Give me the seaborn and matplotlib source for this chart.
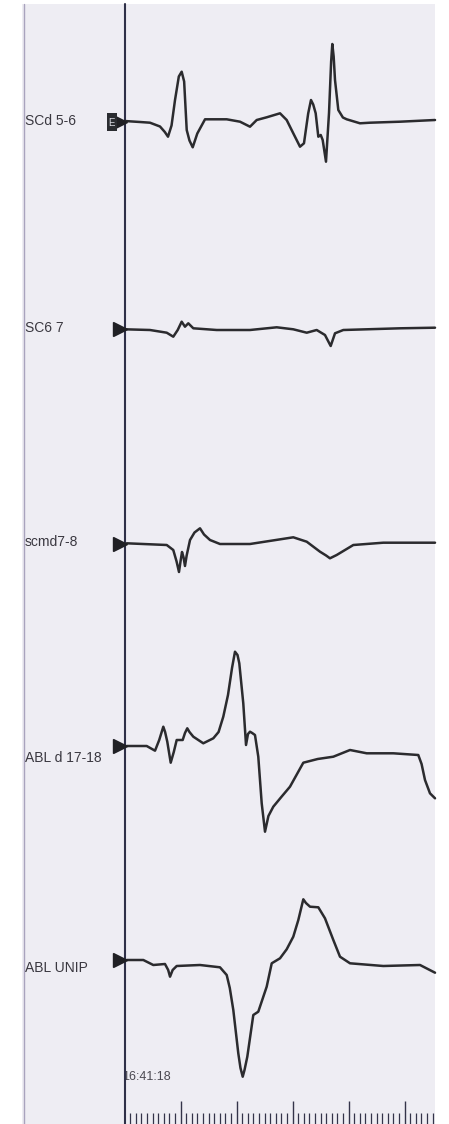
import numpy as np
import pandas as pd
import matplotlib
matplotlib.use("Agg")
import matplotlib.pyplot as plt
import seaborn as sns
from matplotlib.patches import Rectangle

# Intracardiac electrograms, time in ms, amplitude in display units (up = positive)
channels = ["SCd 5-6", "SC6 7", "scmd7-8", "ABL d 17-18", "ABL UNIP"]

t_scd56 = [0, 27.7, 45.5, 63.4, 72.0, 77.7, 84.0, 90.2, 97.0, 102.1, 106.5, 111.1, 116.0, 121.8,
           130.0, 143.8, 182.5, 206.3, 224.1, 236.1, 253.9, 277.7, 289.6, 301.4, 313.4, 320.5,
           328.0, 333.0, 337.0, 341.4, 346.1, 350.4, 353.9, 359.8, 365.2, 369.0, 371.1, 373.5,
           375.9, 381.8, 390.0, 396.8, 420.5, 438.4, 492.0, 554.5]
a_scd56 = [0.5, -0.5, -1.2, -5.0, -10.5, -15.2, -4.0, 21.5, 45.0, 49.8, 40.0, -8.5, -19.0, -25.8,
           -12.0, 2.2, 2.2, -0.2, -5.2, 1.5, 4.2, 8.2, 1.5, -11.8, -25.2, -21.8,
           8.0, 21.5, 17.0, 8.2, -15.2, -13.5, -18.5, -40.2, 8.5, 60.0, 77.5, 65.0,
           41.5, 11.5, 4.0, 2.2, -1.8, -1.2, -0.2, 1.5]

t_sc67 = [0.9, 45.5, 75.4, 87.1, 95.0, 102.1, 108.0, 113.9, 122.9, 164.6, 224.1, 271.8, 301.4,
          325.4, 343.2, 358.0, 368.2, 375.9, 390.7, 432.5, 492.0, 554.5]
a_sc67 = [-0.3, -1.0, -3.7, -7.7, -1.0, 7.3, 2.3, 5.7, 0.7, -1.0, -1.0, 1.7, -0.3,
          -3.7, -1.0, -6.0, -17.0, -4.3, -1.0, -0.3, 0.7, 1.3]

t_scmd78 = [3.9, 75.4, 87.1, 93.0, 97.3, 100.0, 102.7, 105.5, 108.0, 111.0, 117.0, 125.0, 134.8,
            142.0, 152.7, 170.5, 224.1, 301.4, 325.4, 349.1, 360.0, 366.9, 378.9, 408.6, 462.1,
            554.5]
a_scmd78 = [0.2, -1.5, -6.5, -18.0, -28.5, -18.0, -8.5, -14.0, -22.5, -12.0, 3.5, 11.0, 15.2,
            9.0, 3.5, -0.5, -0.5, 6.2, 1.8, -8.2, -12.0, -14.8, -11.5, -1.5, 0.8,
            0.8]

t_abld = [3.9, 39.6, 54.5, 62.0, 69.3, 72.5, 76.4, 82.5, 88.0, 93.2, 103.9, 108.0, 112.1, 116.0,
          122.9, 140.7, 158.6, 168.0, 176.4, 184.8, 192.0, 197.3, 201.8, 205.0, 212.1, 217.0,
          220.5, 224.1, 228.0, 233.0, 238.9, 245.0, 250.9, 257.0, 265.7, 280.0, 295.5, 319.3,
          345.0, 372.9, 402.7, 432.5, 480.0, 524.6, 530.5, 536.6, 545.5, 554.5]
a_abld = [0, 0, -4.7, 6.0, 19.3, 14.0, 4.3, -16.7, -6.0, 6.0, 6.0, 13.0, 17.7, 14.0,
          9.3, 2.7, 7.7, 14.0, 29.3, 51.0, 78.0, 94.3, 91.0, 82.7, 42.7, 1.0,
          12.0, 14.3, 13.0, 11.0, -10.7, -57.3, -85.7, -70.0, -60.7, -51.0, -40.7, -16.7,
          -13.0, -10.7, -4.0, -7.3, -7.3, -9.0, -18.0, -34.0, -47.3, -52.3]

t_ablu = [3.9, 33.6, 51.4, 72.3, 78.0, 81.3, 86.0, 93.2, 134.8, 170.5, 182.5, 188.0, 194.3,
          203.2, 207.1, 211.1, 214.3, 219.3, 230.0, 238.9, 253.9, 262.9, 277.7, 289.6, 301.4,
          310.4, 319.3, 324.0, 331.3, 346.1, 358.0, 372.9, 384.8, 402.7, 462.1, 527.7, 554.5]
a_ablu = [0, 0, -5.0, -4.0, -10.0, -16.7, -10.0, -6.0, -5.0, -7.3, -15.0, -28.0, -50.0,
          -93.3, -108.0, -116.7, -110.0, -96.7, -55.0, -51.7, -26.7, -3.3, 1.7, 10.7, 23.3,
          40.0, 60.7, 57.0, 53.3, 52.7, 41.7, 20.0, 3.3, -3.3, -6.0, -5.0, -12.7]

time_label = "16:41:18"

# layout (pixel rows of each channel baseline, pixels per ms)
W, H = 449, 1124
x0, px_ms = 124.5, 0.56
baselines = [121.5, 329, 543.5, 746, 960]
label_rows = [121, 328, 542, 758, 968]

def tx(px):
    return (px - x0) / px_ms

rows = []
for name, t, a, b in zip(channels,
                         [t_scd56, t_sc67, t_scmd78, t_abld, t_ablu],
                         [a_scd56, a_sc67, a_scmd78, a_abld, a_ablu],
                         baselines):
    for ti, ai in zip(t, a):
        rows.append({"channel": name, "t": ti, "y": -b + ai})
df = pd.DataFrame(rows)

sns.set_style("white")
plt.rcParams["font.family"] = ["Liberation Sans", "DejaVu Sans"]

fig = plt.figure(figsize=(W / 100, H / 100), dpi=100)
fig.patch.set_facecolor("white")
ax = fig.add_axes([0, 0, 1, 1])
ax.set_xlim(tx(0), tx(W))
ax.set_ylim(-H, 0)

# paper background
ax.add_patch(Rectangle((tx(22), -H), tx(435) - tx(22), H - 4,
                       facecolor="#eeedf3", edgecolor="none", zorder=0))
ax.plot([tx(24), tx(24)], [-4, -H], color="#a9a3bd", lw=1.0, zorder=1)

sns.lineplot(data=df, x="t", y="y", hue="channel", palette=["#2b2b2e"] * 5,
             sort=False, estimator=None, legend=False, lw=1.8, ax=ax, zorder=4)
for ln in ax.get_lines():
    ln.set_solid_joinstyle("round")
    ln.set_solid_capstyle("round")
ax.set_xlabel("")
ax.set_ylabel("")
ax.axis("off")

# time ruler
ticks = np.arange(10, 560, 10)
major = ticks[ticks % 100 == 0]
minor = ticks[ticks % 100 != 0]
ax.vlines(minor, -H, -1113, color="#34344a", lw=0.9)
ax.vlines(major, -H, -1101, color="#34344a", lw=1.0)
ax.text(tx(122.5), -1077, time_label, ha="left", va="center", fontsize=9,
        color="#4a4850", zorder=2)
ax.add_patch(Rectangle((tx(112), -1090), tx(123.5) - tx(112), 26,
                       facecolor="#eeedf3", edgecolor="none", zorder=2.5))
ax.plot([0, 0], [-4, -H], color="#2f3048", lw=1.5, zorder=3)

# channel markers and labels
for name, b, lr in zip(channels, baselines, label_rows):
    ax.plot(tx(120), -b, marker=">", ms=10, color="#202024", zorder=5, clip_on=False)
    ax.text(tx(25), -lr, name, ha="left", va="center", fontsize=10, color="#3a3840")
ax.add_patch(Rectangle((tx(107), -131), tx(116.5) - tx(107), 18,
                       facecolor="#2a2c30", edgecolor="none", zorder=5))
ax.text(tx(111.7), -122.5, "E", ha="center", va="center", fontsize=7,
        color="#dcdde4", zorder=6)

fig.savefig("out.png", dpi=100, facecolor="white")
